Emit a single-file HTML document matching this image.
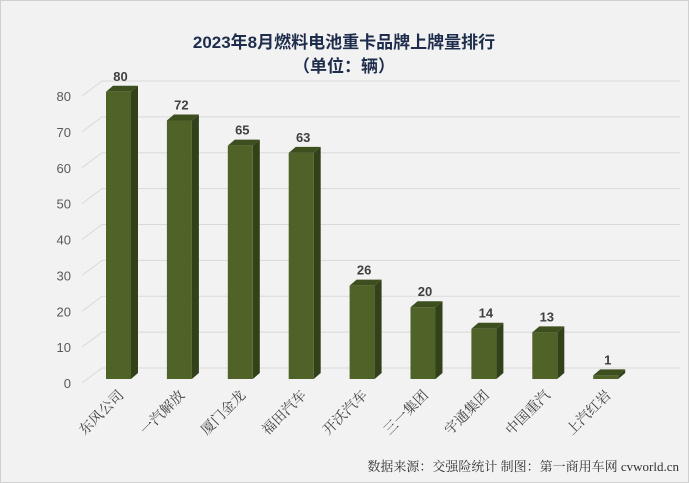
<!DOCTYPE html>
<html><head><meta charset="utf-8"><style>
body{margin:0;background:#fff}
svg{display:block;font-family:"Liberation Sans","Noto Sans CJK SC",sans-serif}
.serif{font-family:"Liberation Serif","Noto Serif CJK SC",serif}
</style></head><body>
<svg id="c" width="689" height="483" viewBox="0 0 689 483">
<rect x="0.5" y="0.5" width="688" height="482" fill="#f2f2f2" stroke="#d0d0d0"/>
<text x="344" y="48" text-anchor="middle" font-size="17" font-weight="bold" fill="#1f2d4d">2023年8月燃料电池重卡品牌上牌量排行</text>
<text x="344" y="72" text-anchor="middle" font-size="17" font-weight="bold" fill="#1f2d4d">（单位：辆）</text>
<g id="grid"></g><g id="bars"></g><g id="labels"></g>
<text x="679" y="471" text-anchor="end" font-size="13" fill="#333" class="serif">数据来源：交强险统计  制图：第一商用车网 cvworld.cn</text>
</svg>
<script>
const categories=["东风公司","一汽解放","厦门金龙","福田汽车","开沃汽车","三一集团","宇通集团","中国重汽","上汽红岩"];
const values=[80,72,65,63,26,20,14,13,1];
const ticks=[0,10,20,30,40,50,60,70,80];
const NS="http://www.w3.org/2000/svg";
function mk(t,a,p){const e=document.createElementNS(NS,t);for(const k in a)e.setAttribute(k,a[k]);p.appendChild(e);return e;}
const yF=v=>379-v*3.59, yB=v=>368-v*3.5875;
const xC=i=>118.5+i*60.9;
const g=document.getElementById('grid'),b=document.getElementById('bars'),l=document.getElementById('labels');
ticks.forEach(t=>{
 const ln=mk('polyline',{points:`${82},${yB(t)+15} ${102},${yB(t)} ${680},${yB(t)}`,fill:'none',stroke:'#d9d9d9','stroke-width':1},g);
 
 
 const tx=mk('text',{x:71,y:yB(t)+20,'text-anchor':'end','font-size':13,fill:'#595959'},g);
 tx.textContent=t;
 
 
});
values.forEach((v,i)=>{
 const x0=xC(i)-12.5,x1=xC(i)+12.5,yt=yF(v),yb=379,d=7,u=6;
 const grp=mk('g',{},b);
 
 
 mk('polygon',{points:`${x1},${yt} ${x1+d},${yt-u} ${x1+d},${yb-u} ${x1},${yb}`,fill:'#33411a'},grp);
 mk('polygon',{points:`${x0},${yt} ${x0+d},${yt-u} ${x1+d},${yt-u} ${x1},${yt}`,fill:'#3d4e1f'},grp);
 mk('rect',{x:x0,y:yt,width:25,height:yb-yt,fill:'#4f6228'},grp);
 const vt=mk('text',{x:xC(i)+2,y:yt-11,'text-anchor':'middle','font-size':13,'font-weight':'bold',fill:'#404040'},l);
 vt.textContent=v;
 
 
 const ct=mk('text',{x:xC(i)+6,y:396,'text-anchor':'end','font-size':14,fill:'#404040',class:'serif',transform:`rotate(-45 ${xC(i)+6} 396)`},l);
 ct.textContent=categories[i];
 
 
});
</script>
</body></html>
